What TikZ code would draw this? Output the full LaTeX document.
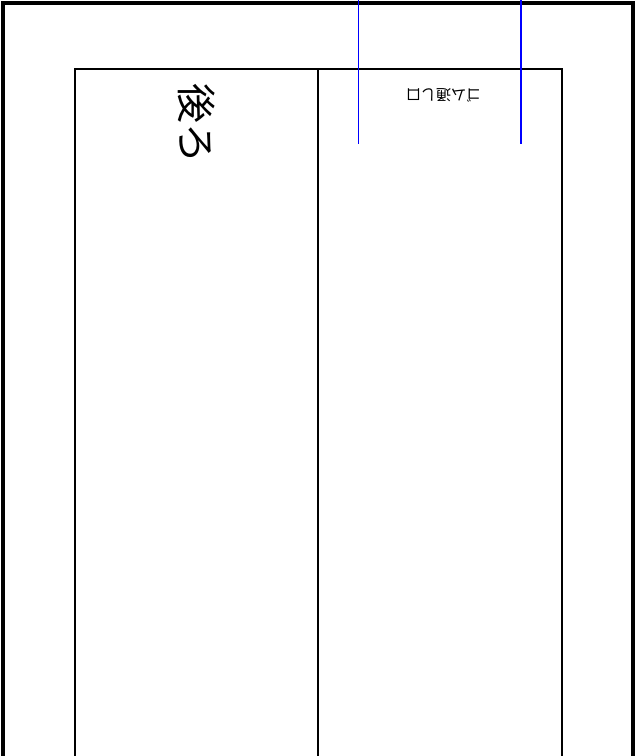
\documentclass[tikz,border=0pt]{standalone}
\usepackage{fontspec}
\newfontfamily\jpfont{Noto Sans CJK JP}
\tikzset{
  outerframe/.style={draw=black,line width=4pt},
  innerframe/.style={draw=black,line width=1.4pt},
  guide/.style={draw=blue,line width=1.4pt},
  label/.style={inner sep=0pt,font=\jpfont}
}
\begin{document}
\begin{tikzpicture}[x=1pt,y=-1pt]
\useasboundingbox (0,0) rectangle (636,756);
\fill[white] (0,0) rectangle (636,756);
% outer frame (continues below the page)
\draw[outerframe] (2.5,800) -- (2.5,3) -- (632.5,3) -- (632.5,800);
% inner panel
\draw[innerframe] (75,800) -- (75,69) -- (562,69) -- (562,800);
\draw[innerframe] (318,69) -- (318,800);
% labels
\node[label,font=\jpfont\fontsize{40}{40}\selectfont,rotate=-90] (back) at (197,123) {後ろ};
\node[label,font=\jpfont\fontsize{15}{15}\selectfont,rotate=180] (slot) at (443.5,95) {ゴム通し口};
% blue guide lines
\coordinate (g1top) at (358.7,0);
\coordinate (g1bot) at (358.7,144);
\coordinate (g2top) at (521,0);
\coordinate (g2bot) at (521,144);
\draw[guide] (g1top) -- (g1bot);
\draw[guide] (g2top) -- (g2bot);
\end{tikzpicture}
\end{document}
